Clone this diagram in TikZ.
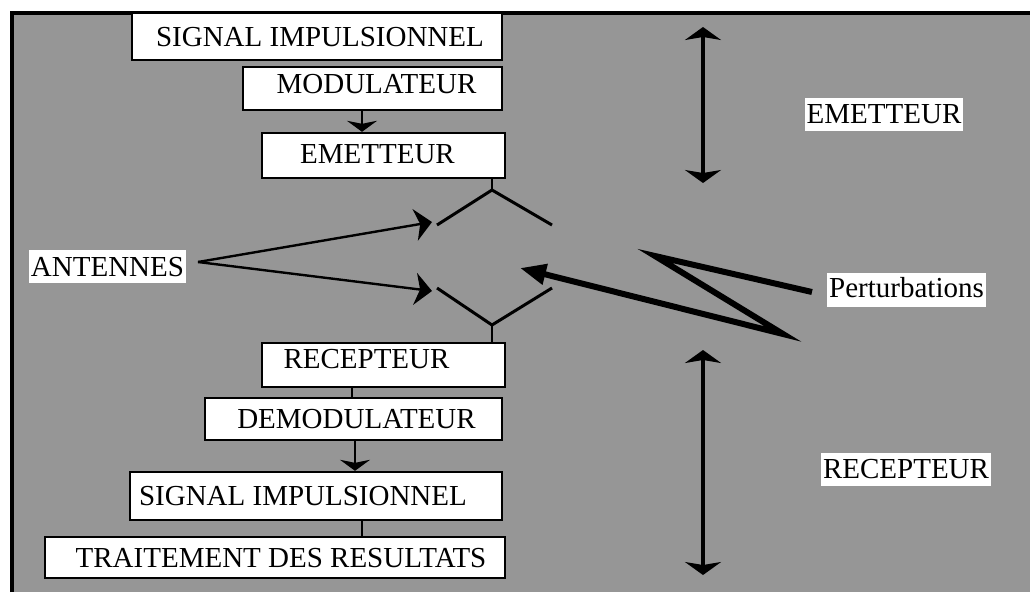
\documentclass[tikz,border=0pt]{standalone}
\usepackage{fontspec}
\setmainfont{Liberation Serif}
\usetikzlibrary{arrows.meta}
% move a box's text sideways without changing the box
\newcommand\shiftx[2]{\hspace*{#1}#2\hspace*{-#1}}
\definecolor{paper}{RGB}{150,150,150}

\begin{document}
\begin{tikzpicture}[x=1pt,y=-1pt,
  every node/.style={font=\fontsize{29}{34}\selectfont, text height=19pt, text depth=0pt, inner sep=0pt},
  blk/.style={draw, fill=white, line width=2.4pt},
  tag/.style={fill=white, inner xsep=2pt, inner ysep=7pt},
  link/.style={line width=1.6pt},
  flow/.style={line width=1.6pt, -{Stealth[length=11pt,width=30pt,inset=3pt]}},
  aerial/.style={line width=3pt},
  pointer/.style={line width=2.4pt, -{Stealth[length=17pt,width=32pt,inset=5pt]}},
  span/.style={line width=3.2pt, {Stealth[length=13pt,width=36pt,inset=3pt]}-{Stealth[length=13pt,width=36pt,inset=3pt]}},
  bolt/.style={line width=6pt, line join=miter, miter limit=20, -{Triangle[length=26pt,width=20pt]}}
]
\useasboundingbox (0,0) rectangle (1030,592);
\fill[paper] (12,12) rectangle (1030,592);
\draw[line width=4pt] (12,592) -- (12,13) -- (1030,13);

% transmitting chain
\node[blk, minimum width=370pt, minimum height=47pt] (sigA) at (317,36.5) {\shiftx{3pt}{SIGNAL IMPULSIONNEL}};
\node[blk, minimum width=259pt, minimum height=43pt, text height=10pt] (mod) at (372.5,88.5) {\shiftx{4pt}{MODULATEUR}};
\node[blk, minimum width=243pt, minimum height=45pt, text height=16pt] (emt) at (383.5,155.5) {\shiftx{-6pt}{EMETTEUR}};

% receiving chain
\node[blk, minimum width=243pt, minimum height=44pt, text height=7pt] (rec) at (383.5,365) {\shiftx{-17pt}{RECEPTEUR}};
\node[blk, minimum width=297pt, minimum height=42pt] (dem) at (353.5,419) {\shiftx{3pt}{DEMODULATEUR}};
\node[blk, minimum width=372pt, minimum height=48pt] (sigB) at (316,496) {\shiftx{-13pt}{SIGNAL IMPULSIONNEL}};
\node[blk, minimum width=460pt, minimum height=41pt] (trt) at (275,557.5) {\shiftx{6pt}{TRAITEMENT DES RESULTATS}};

% free labels
\node[tag] (antl) at (107.5,266.5) {ANTENNES};
\node[tag] (emtl) at (884,114) {EMETTEUR};
\node[tag] (recl) at (906,469) {RECEPTEUR};
\node[tag, text height=20pt, text depth=6pt, inner ysep=4pt] (pert) at (906.5,290) {Perturbations};

% antennas
\coordinate (apexT) at (492,190);
\coordinate (apexB) at (492,325);
\draw[aerial] (437,225) -- (apexT) -- (552,225);
\draw[aerial] (437,288) -- (apexB) -- (552,288);

% chain links
\draw[flow] (362,0 |- mod.south) -- (362,0 |- emt.north);
\draw[link] (492,0 |- emt.south) -- (apexT);
\draw[link] (apexB) -- (492,0 |- rec.north);
\draw[link] (352,0 |- rec.south) -- (352,0 |- dem.north);
\draw[flow] (355,0 |- dem.south) -- (355,0 |- sigB.north);
\draw[link] (362,0 |- sigB.south) -- (362,0 |- trt.north);

% antenna pointers
\coordinate (antsrc) at (198,262);
\coordinate (antT) at (432,222);
\coordinate (antB) at (432,291);
\draw[pointer] (antsrc) -- (antT);
\draw[pointer] (antsrc) -- (antB);

% extent arrows
\coordinate (emtTop) at (703,27);
\coordinate (emtBot) at (703,183);
\coordinate (recTop) at (703,350);
\coordinate (recBot) at (703,575);
\draw[span] (emtTop) -- (emtBot);
\draw[span] (recTop) -- (recBot);

% disturbance bolt
\coordinate (boltTip) at (520,268);
\draw[bolt] ([xshift=-15pt,yshift=-2pt]pert.west) -- (655,256) -- (783,334) -- (boltTip);
\end{tikzpicture}
\end{document}
